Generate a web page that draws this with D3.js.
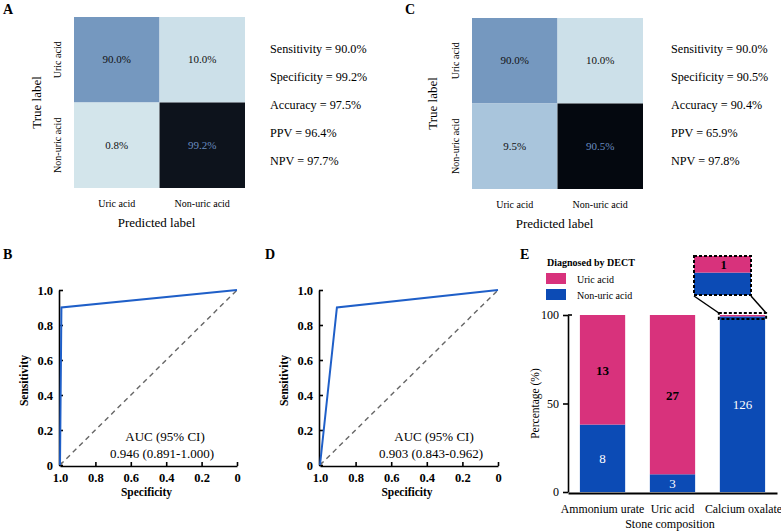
<!DOCTYPE html>
<html><head><meta charset="utf-8">
<script src="https://cdn.jsdelivr.net/npm/d3@7"></script>
<style>
html,body{margin:0;padding:0;background:#fff;}
svg{display:block;font-family:"Liberation Serif","Times New Roman",serif;}
</style></head>
<body>
<svg id="chart" width="781" height="531"></svg>
<script>
// ---------- DATA ----------
const cmClasses = ["Uric acid", "Non-uric acid"];
const cmCountsA = [[27, 3], [1, 125]];
const cmCountsC = [[27, 3], [14, 133]];
const metricsA = ["Sensitivity = 90.0%", "Specificity = 99.2%", "Accuracy = 97.5%", "PPV = 96.4%", "NPV = 97.7%"];
const metricsC = ["Sensitivity = 90.0%", "Specificity = 90.5%", "Accuracy = 90.4%", "PPV = 65.9%", "NPV = 97.8%"];

const rocB = [{spec: 1.0, sens: 0.0}, {spec: 0.992, sens: 0.9}, {spec: 0.0, sens: 1.0}];
const rocD = [{spec: 1.0, sens: 0.0}, {spec: 0.905, sens: 0.9}, {spec: 0.0, sens: 1.0}];
const aucB = ["AUC (95% CI)", "0.946 (0.891-1.000)"];
const aucD = ["AUC (95% CI)", "0.903 (0.843-0.962)"];
const rocTicks = [0, 0.2, 0.4, 0.6, 0.8, 1.0];

const stoneTypes = ["Ammonium urate", "Uric acid", "Calcium oxalate"];
const uricCounts = [13, 27, 1];
const nonUricCounts = [8, 3, 126];
const legendLabels = ["Uric acid", "Non-uric acid"];
const pctTicks = [0, 50, 100];

// ---------- SETUP ----------
const svg = d3.select("#chart");
const serif = '"Liberation Serif","Times New Roman",serif';
svg.style("font-family", serif);
const pink = "#d8327c", blue = "#0c4bb5";

function panelLabel(t, x, y) {
  svg.append("text").attr("x", x).attr("y", y).attr("font-size", 14)
    .attr("font-weight", "bold").text(t);
}
panelLabel("A", 3, 14);
panelLabel("C", 405, 14);
panelLabel("B", 3, 259);
panelLabel("D", 265, 259);
panelLabel("E", 520, 259);

// ---------- CONFUSION MATRICES ----------
const cmColor = d3.scaleLinear().domain([0, 14, 27, 133])
  .range(["#d6e7ec", "#a9c5dc", "#7598bf", "#04080f"]).clamp(true);

function confMatrix(counts, metrics, x0, y0, size, metricsX, ytickX, ylabX) {
  const g = svg.append("g");
  const x = d3.scaleBand().domain(cmClasses).range([x0, x0 + size]);
  const y = d3.scaleBand().domain(cmClasses).range([y0, y0 + size]);
  const cells = [];
  counts.forEach((row, i) => {
    const tot = d3.sum(row);
    row.forEach((v, j) => cells.push({t: cmClasses[i], p: cmClasses[j], v, pct: 100 * v / tot}));
  });
  g.selectAll("rect.cell").data(cells).join("rect")
    .attr("x", d => x(d.p)).attr("y", d => y(d.t))
    .attr("width", x.bandwidth()).attr("height", y.bandwidth())
    .attr("fill", d => cmColor(d.v));
  g.selectAll("text.cell").data(cells).join("text")
    .attr("x", d => x(d.p) + x.bandwidth() / 2).attr("y", d => y(d.t) + y.bandwidth() / 2 + 3.5)
    .attr("text-anchor", "middle").attr("font-size", 11)
    .attr("fill", d => d.v > 100 ? "#6a8cc0" : "#111")
    .text(d => d.pct.toFixed(1) + "%");
  g.selectAll("text.xt").data(cmClasses).join("text")
    .attr("x", d => x(d) + x.bandwidth() / 2).attr("y", y0 + size + 19)
    .attr("text-anchor", "middle").attr("font-size", 10).text(d => d);
  g.selectAll("text.yt").data(cmClasses).join("text")
    .attr("transform", d => `translate(${ytickX},${y(d) + y.bandwidth() / 2}) rotate(-90)`)
    .attr("text-anchor", "middle").attr("font-size", 10).text(d => d);
  g.append("text").attr("x", x0 + size / 2 - 3).attr("y", y0 + size + 39)
    .attr("text-anchor", "middle").attr("font-size", 13).text("Predicted label");
  g.append("text").attr("transform", `translate(${ylabX},${y0 + size / 2}) rotate(-90)`)
    .attr("text-anchor", "middle").attr("font-size", 13).text("True label");
  g.selectAll("text.m").data(metrics).join("text")
    .attr("x", metricsX).attr("y", (d, i) => 53 + i * 28)
    .attr("font-size", 12.2).text(d => d);
}
confMatrix(cmCountsA, metricsA, 74, 17, 171, 270, 61, 41);
confMatrix(cmCountsC, metricsC, 472, 18, 171, 671, 459, 437);

// ---------- ROC ----------
function rocPanel(data, auc, xl, xr, yTop, yBot, aucCx) {
  const g = svg.append("g");
  const x = d3.scaleLinear().domain([1, 0]).range([xl, xr]);
  const y = d3.scaleLinear().domain([0, 1]).range([yBot, yTop]);
  const fmt = d => d === 0 ? "0" : d3.format(".1f")(d);
  const ax = g.append("g").attr("transform", `translate(0,${yBot + 1})`)
    .call(d3.axisBottom(x).tickValues(rocTicks).tickFormat(fmt).tickSize(-4).tickSizeOuter(0).tickPadding(7));
  const ay = g.append("g").attr("transform", `translate(${xl - 1},0)`)
    .call(d3.axisLeft(y).tickValues(rocTicks).tickFormat(fmt).tickSize(-4).tickSizeOuter(0).tickPadding(6));
  [ax, ay].forEach(a => {
    a.attr("font-family", serif);
    a.selectAll("path,line").attr("stroke", "#000").attr("stroke-width", 1.6);
    a.selectAll("text").attr("font-family", serif).attr("font-size", 12.5)
      .attr("font-weight", "bold").attr("fill", "#000");
  });
  g.append("line").attr("x1", x(1)).attr("y1", y(0)).attr("x2", x(0)).attr("y2", y(1))
    .attr("stroke", "#666").attr("stroke-width", 1.4).attr("stroke-dasharray", "5,4");
  const line = d3.line().x(d => x(d.spec)).y(d => y(d.sens));
  g.append("path").datum(data).attr("d", line).attr("fill", "none")
    .attr("stroke", "#1f5fc8").attr("stroke-width", 2);
  g.append("text").attr("x", (xl + xr) / 2 - 2).attr("y", yBot + 31)
    .attr("text-anchor", "middle").attr("font-size", 11.5).attr("font-weight", "bold").text("Specificity");
  g.append("text").attr("transform", `translate(${xl - 32},${(yTop + yBot) / 2 + 3}) rotate(-90)`)
    .attr("text-anchor", "middle").attr("font-size", 11.5).attr("font-weight", "bold").text("Sensitivity");
  g.selectAll("text.auc").data(auc).join("text")
    .attr("x", (d, i) => aucCx - i * 3).attr("y", (d, i) => yBot - 24 + i * 17)
    .attr("text-anchor", "middle").attr("font-size", 13).text(d => d);
}
rocPanel(rocB, aucB, 60, 237, 290, 465, 165);
rocPanel(rocD, aucD, 320, 498, 290, 465, 434);

// ---------- STACKED BARS ----------
(function () {
  const g = svg.append("g");
  const x = d3.scaleBand().domain(stoneTypes).range([568, 777]).paddingInner(0.353).paddingOuter(0.17);
  const y = d3.scaleLinear().domain([0, 100]).range([492, 315]);
  const rows = stoneTypes.map((s, i) => {
    const tot = uricCounts[i] + nonUricCounts[i];
    return {s, u: uricCounts[i], n: nonUricCounts[i], nPct: 100 * nonUricCounts[i] / tot};
  });
  g.selectAll("rect.n").data(rows).join("rect")
    .attr("x", d => x(d.s)).attr("width", x.bandwidth())
    .attr("y", d => y(d.nPct)).attr("height", d => y(0) - y(d.nPct)).attr("fill", blue);
  g.selectAll("rect.u").data(rows).join("rect")
    .attr("x", d => x(d.s)).attr("width", x.bandwidth())
    .attr("y", y(100)).attr("height", d => y(d.nPct) - y(100)).attr("fill", pink);
  g.selectAll("text.n").data(rows).join("text")
    .attr("x", d => x(d.s) + x.bandwidth() / 2).attr("y", d => y(d.nPct / 2) + 5)
    .attr("text-anchor", "middle").attr("font-size", 13).attr("fill", "#fff").text(d => d.n);
  g.selectAll("text.u").data(rows.filter(d => d.nPct < 90)).join("text")
    .attr("x", d => x(d.s) + x.bandwidth() / 2).attr("y", d => y((d.nPct + 100) / 2) + 5)
    .attr("text-anchor", "middle").attr("font-size", 13).attr("font-weight", "bold").attr("fill", "#000").text(d => d.u);
  const ay = g.append("g").attr("transform", `translate(568,0)`)
    .call(d3.axisLeft(y).tickValues(pctTicks).tickSize(5).tickSizeOuter(0).tickPadding(4));
  ay.attr("font-family", serif);
  ay.selectAll("path,line").attr("stroke", "#000").attr("stroke-width", 1.6);
  ay.selectAll("text").attr("font-family", serif).attr("font-size", 12).attr("fill", "#000");
  g.append("line").attr("x1", 568).attr("x2", 572).attr("y1", y(100)).attr("y2", y(100))
    .attr("stroke", "#000").attr("stroke-width", 1.6);
  const ax = g.append("g").attr("transform", `translate(0,${y(0) + 1})`)
    .call(d3.axisBottom(x).tickSize(0).tickSizeOuter(0).tickPadding(12));
  ax.attr("font-family", serif);
  ax.select("path").attr("stroke", "#000").attr("stroke-width", 1.8);
  ax.selectAll("text").attr("font-family", serif).attr("font-size", 11.8).attr("fill", "#000")
    .attr("dx", (d, i) => i === 2 ? 1 : 0);
  g.append("text").attr("x", 670).attr("y", 528).attr("text-anchor", "middle")
    .attr("font-size", 12).text("Stone composition");
  g.append("text").attr("transform", `translate(539,${(y(0) + y(100)) / 2}) rotate(-90)`)
    .attr("text-anchor", "middle").attr("font-size", 11.5).text("Percentage (%)");
  g.append("text").attr("x", 547).attr("y", 266).attr("font-size", 10).attr("font-weight", "bold")
    .text("Diagnosed by DECT");
  const lg = g.selectAll("g.lg").data(legendLabels).join("g")
    .attr("transform", (d, i) => `translate(546,${273 + i * 16})`);
  lg.append("rect").attr("width", 20).attr("height", 11).attr("fill", (d, i) => i === 0 ? pink : blue);
  lg.append("text").attr("x", 31).attr("y", 9.5).attr("font-size", 10).text(d => d);

  // zoom inset for Calcium oxalate
  const co = rows[2];
  const bx = x(co.s), bw = x.bandwidth();
  const zTop = y(100) - 2, zBot = y(97.7);
  const ins = {x: 694, y: 256, w: 57, h: 39};
  const yi = d3.scaleLinear().domain([98.15, 100]).range([ins.y + ins.h, ins.y]);
  svg.append("clipPath").attr("id", "insclip").append("rect")
    .attr("x", ins.x).attr("y", ins.y).attr("width", ins.w).attr("height", ins.h);
  const ig = g.append("g").attr("clip-path", "url(#insclip)");
  ig.append("rect").attr("x", ins.x).attr("width", ins.w).attr("y", yi(co.nPct)).attr("height", ins.y + ins.h - yi(co.nPct)).attr("fill", blue);
  ig.append("rect").attr("x", ins.x).attr("width", ins.w).attr("y", yi(100)).attr("height", yi(co.nPct) - yi(100)).attr("fill", pink);
  g.append("text").attr("x", ins.x + ins.w / 2 + 1).attr("y", (yi(100) + yi(co.nPct)) / 2 + 4.5)
    .attr("text-anchor", "middle").attr("font-size", 12.5).attr("font-weight", "bold").text(co.u);
  g.append("rect").attr("x", ins.x).attr("y", ins.y).attr("width", ins.w).attr("height", ins.h)
    .attr("fill", "none").attr("stroke", "#000").attr("stroke-width", 2).attr("stroke-dasharray", "3,2");
  g.append("rect").attr("x", bx - 1).attr("y", zTop).attr("width", bw + 2).attr("height", zBot - zTop)
    .attr("fill", "none").attr("stroke", "#000").attr("stroke-width", 2).attr("stroke-dasharray", "3,2");
  g.append("line").attr("x1", ins.x).attr("y1", ins.y + ins.h + 1).attr("x2", bx - 1).attr("y2", zTop)
    .attr("stroke", "#000").attr("stroke-width", 1.5);
  g.append("line").attr("x1", ins.x + ins.w).attr("y1", ins.y + ins.h + 1).attr("x2", bx + bw + 1).attr("y2", zTop)
    .attr("stroke", "#000").attr("stroke-width", 1.5);
})();
</script>
</body></html>
